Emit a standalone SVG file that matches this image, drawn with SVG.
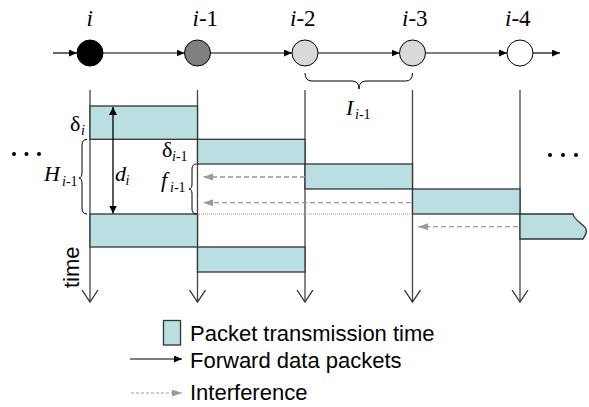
<svg xmlns="http://www.w3.org/2000/svg" width="589" height="407" viewBox="0 0 589 407">
<defs>
<style>
.lbl{font-family:"Liberation Serif","Times New Roman",serif;font-size:22px;fill:#000}
.top{font-size:23px}
.it{font-style:italic}
.sub{font-size:14px}
.leg{font-family:"Liberation Sans",Arial,sans-serif;font-size:22px;fill:#000}
.pkt{fill:#b9dfe2;stroke:#333;stroke-width:1.3}
.tl{stroke:#444;stroke-width:1.3;fill:none;marker-end:url(#vee)}
.fw{stroke:#000;stroke-width:1.2;fill:none;marker-end:url(#ah)}
.intf{stroke:#999;stroke-width:1.3;stroke-dasharray:5 3;fill:none;marker-end:url(#gh)}
.brace{stroke:#000;stroke-width:1;fill:none}
.node{stroke:#000;stroke-width:1}
.dot{fill:#000}
</style>
<marker id="ah" markerUnits="userSpaceOnUse" markerWidth="9" markerHeight="8" refX="8" refY="3.5" orient="auto"><path d="M0,0 L8,3.5 L0,7 z" fill="#000"/></marker>
<marker id="gh" markerUnits="userSpaceOnUse" markerWidth="11" markerHeight="8" refX="10" refY="3.5" orient="auto"><path d="M0,0 L10,3.5 L0,7 z" fill="#999"/></marker>
<marker id="vee" markerUnits="userSpaceOnUse" markerWidth="14" markerHeight="18" refX="12.5" refY="8.5" orient="auto"><path d="M0.5,0.5 L12.5,8.5 L0.5,16.5" fill="none" stroke="#333" stroke-width="1.3"/></marker>
<marker id="dh" markerUnits="userSpaceOnUse" markerWidth="9" markerHeight="9" refX="8" refY="4" orient="auto-start-reverse"><path d="M0,0 L8,4 L0,8 z" fill="#000"/></marker>
</defs>

<g id="timelines">
<line class="tl" x1="90" y1="90" x2="90" y2="302"/>
<line class="tl" x1="197.5" y1="90" x2="197.5" y2="302"/>
<line class="tl" x1="305" y1="90" x2="305" y2="302"/>
<line class="tl" x1="412.5" y1="90" x2="412.5" y2="302"/>
<line class="tl" x1="520" y1="90" x2="520" y2="302"/>
</g>

<g id="packets">
<rect class="pkt" x="90" y="106" width="107.5" height="33.3"/>
<rect class="pkt" x="90" y="214" width="107.5" height="33"/>
<rect class="pkt" x="197.5" y="139.3" width="107.5" height="24.7"/>
<rect class="pkt" x="197.5" y="247" width="107.5" height="25"/>
<rect class="pkt" x="305" y="164" width="107.5" height="25"/>
<rect class="pkt" x="412.5" y="189" width="107.5" height="25"/>
<path class="pkt" d="M520,214 L573,214 C574,220 582,223 585.5,228 C588,232 585,236 583,239 L520,239 Z"/>
</g>

<g id="connectors">
<line class="fw" x1="53" y1="53" x2="77" y2="53"/>
<line class="fw" x1="103" y1="53" x2="184.5" y2="53"/>
<line class="fw" x1="210.5" y1="53" x2="292" y2="53"/>
<line class="fw" x1="318" y1="53" x2="399.5" y2="53"/>
<line class="fw" x1="425.5" y1="53" x2="507" y2="53"/>
<line class="fw" x1="533" y1="53" x2="560" y2="53"/>
<line class="intf" x1="305" y1="177" x2="203" y2="177"/>
<line class="intf" x1="411" y1="202.7" x2="203" y2="202.7"/>
<line class="intf" x1="518" y1="226.7" x2="418" y2="226.7"/>
<line x1="199" y1="214" x2="411" y2="214" stroke="#999" stroke-width="1" stroke-dasharray="1 1"/>
<line x1="113" y1="107" x2="113" y2="213.5" stroke="#000" stroke-width="1.3" marker-start="url(#dh)" marker-end="url(#dh)"/>
</g>

<g id="node-i"><circle class="node" cx="90" cy="53" r="13" fill="#000"/><text class="lbl top it" x="86.5" y="26">i</text></g>
<g id="node-i1"><circle class="node" cx="197.5" cy="53" r="13" fill="#808080"/><text class="lbl top" x="192.5" y="26"><tspan class="it">i</tspan>-1</text></g>
<g id="node-i2"><circle class="node" cx="305" cy="53" r="13" fill="#d9d9d9"/><text class="lbl top" x="290" y="26"><tspan class="it">i</tspan>-2</text></g>
<g id="node-i3"><circle class="node" cx="412.5" cy="53" r="13" fill="#d9d9d9"/><text class="lbl top" x="402" y="26"><tspan class="it">i</tspan>-3</text></g>
<g id="node-i4"><circle class="node" cx="520" cy="53" r="13" fill="#fff"/><text class="lbl top" x="505" y="26"><tspan class="it">i</tspan>-4</text></g>

<g id="braces">
<path class="brace" d="M305,73 Q305,81 312,81 L352,81 Q359,81 359,89 Q359,81 366,81 L405.5,81 Q412.5,81 412.5,73"/>
<path class="brace" d="M87,139.5 Q82,139.5 82,145 L82,172 Q82,178 79,178 Q82,178 82,184 L82,208 Q82,214 87,214"/>
<path class="brace" d="M196.5,164 Q192,164 192,169 L192,184 Q192,189 189,189 Q192,189 192,194 L192,209 Q192,214 196.5,214"/>
</g>

<g id="labels">
<text class="lbl" x="70" y="131">δ</text><text class="lbl sub it" x="81" y="135">i</text>
<text class="lbl" x="162" y="157">δ</text><text class="lbl sub" x="172" y="161"><tspan class="it">i</tspan>-1</text>
<text class="lbl it" x="44" y="181">H</text><text class="lbl sub" x="62" y="186"><tspan class="it">i</tspan>-1</text>
<text class="lbl it" x="115" y="181">d</text><text class="lbl sub it" x="125.5" y="185">i</text>
<text class="lbl it" x="161" y="187">f</text><text class="lbl sub" x="170" y="192"><tspan class="it">i</tspan>-1</text>
<text class="lbl it" x="346" y="115">I</text><text class="lbl sub" x="355" y="119"><tspan class="it">i</tspan>-1</text>
<text class="leg" transform="translate(79,288) rotate(-90)">time</text>
<circle class="dot" cx="14" cy="154" r="2"/><circle class="dot" cx="26.5" cy="154" r="2"/><circle class="dot" cx="39" cy="154" r="2"/>
<circle class="dot" cx="550" cy="155" r="2"/><circle class="dot" cx="563" cy="155" r="2"/><circle class="dot" cx="576" cy="155" r="2"/>
</g>

<g id="legend">
<rect class="pkt" x="163.5" y="320.5" width="17" height="24.5"/>
<text class="leg" x="190" y="341">Packet transmission time</text>
<line class="fw" x1="130" y1="359" x2="182" y2="359"/>
<text class="leg" x="190" y="368">Forward data packets</text>
<line x1="131" y1="393" x2="182" y2="393" stroke="#999" stroke-width="1" stroke-dasharray="3 2" marker-end="url(#gh)"/>
<text class="leg" x="190" y="400">Interference</text>
</g>
</svg>
